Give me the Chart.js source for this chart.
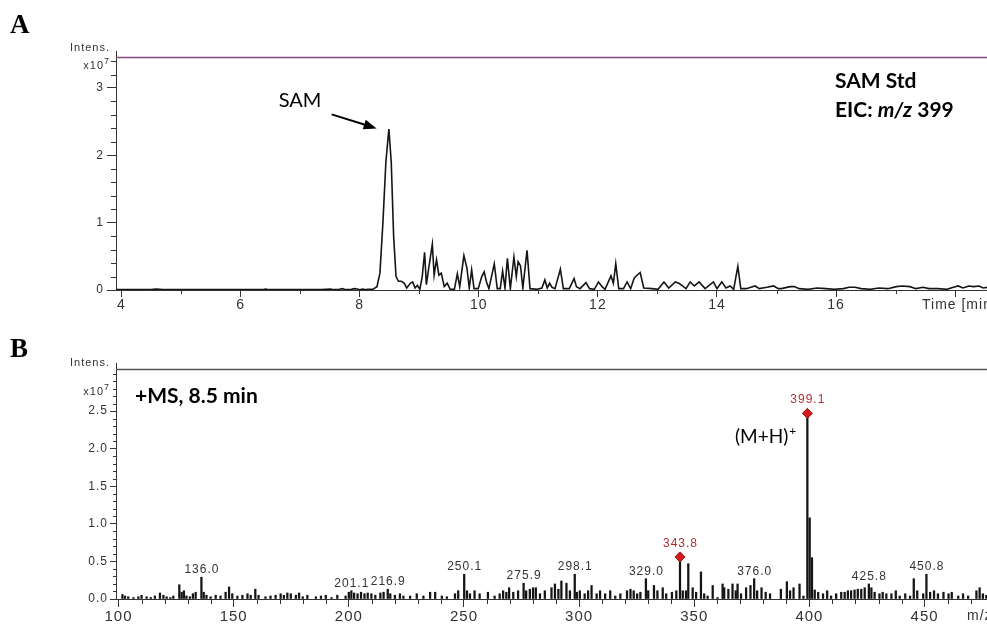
<!DOCTYPE html>
<html>
<head>
<meta charset="utf-8">
<script src="https://cdn.jsdelivr.net/npm/chart.js@4.4.1/dist/chart.umd.min.js"></script>
<style>
html, body { margin: 0; padding: 0; background: #fff; overflow: hidden; width: 987px; height: 624px; }
#a { position: absolute; left: 0; top: 0; }
#b { position: absolute; left: 0; top: 314px; }
</style>
</head>
<body>
<canvas id="a" width="987" height="314"></canvas>
<canvas id="b" width="987" height="310"></canvas>
<script>
// ---- panel A: extracted ion chromatogram, m/z 399 (intensity x10^7) ----
var eicTime = [3.91, 4.49, 4.59, 4.69, 5.48, 6.37, 6.42, 6.47, 7.36, 7.51, 7.56, 7.66, 7.71, 7.76, 7.86, 7.91, 7.96, 8.0, 8.05, 8.1, 8.15, 8.22,
  8.29, 8.34, 8.39, 8.44, 8.49, 8.53, 8.57, 8.61, 8.65, 8.7, 8.75, 8.79, 8.85, 8.89, 8.93, 8.97, 9.01, 9.05, 9.09, 9.12, 9.16,
  9.22, 9.25, 9.29, 9.33, 9.37, 9.42, 9.47, 9.52, 9.59, 9.64, 9.68, 9.75, 9.8, 9.84, 9.88, 9.92, 9.99, 10.05, 10.09, 10.13,
  10.17, 10.26, 10.31, 10.36, 10.4, 10.44, 10.48, 10.53, 10.59, 10.63, 10.66, 10.7, 10.74, 10.81, 10.86, 10.98, 11.06, 11.11,
  11.15, 11.19, 11.23, 11.28, 11.37, 11.42, 11.52, 11.6, 11.64, 11.7, 11.8, 11.86, 11.94, 12.01, 12.07, 12.12, 12.22, 12.26,
  12.3, 12.35, 12.43, 12.49, 12.55, 12.61, 12.71, 12.77, 12.91, 13.01, 13.11, 13.19, 13.3, 13.36, 13.42, 13.48, 13.55, 13.62,
  13.7, 13.8, 13.94, 14.0, 14.08, 14.15, 14.22, 14.28, 14.35, 14.4, 14.49, 14.64, 14.71, 14.84, 14.95, 15.03, 15.08, 15.23,
  15.3, 15.38, 15.53, 15.68, 15.83, 15.97, 16.12, 16.22, 16.32, 16.42, 16.57, 16.72, 16.87, 17.01, 17.11, 17.24, 17.34, 17.46,
  17.56, 17.71, 17.86, 17.97, 18.05, 18.13, 18.23, 18.31, 18.4, 18.47, 18.54];
var eicIntens = [0.005, 0.005, 0.015, 0.005, 0.005, 0.005, 0.015, 0.005, 0.005, 0.015, 0.005, 0.01, 0.02, 0.005, 0.01, 0.02, 0.015, 0.005, 0.015, 0.005, 0.01, 0.01,
  0.05, 0.25, 1.0, 1.9, 2.39, 1.9, 0.8, 0.2, 0.13, 0.13, 0.1, 0.03, 0.1, 0.12, 0.03, 0.07, 0.01, 0.2, 0.56, 0.08, 0.33,
  0.68, 0.22, 0.45, 0.22, 0.25, 0.05, 0.1, 0.01, 0.01, 0.24, 0.05, 0.51, 0.33, 0.03, 0.3, 0.02, 0.02, 0.2, 0.27, 0.12,
  0.02, 0.39, 0.02, 0.02, 0.28, 0.03, 0.47, 0.02, 0.49, 0.2, 0.42, 0.36, 0.03, 0.59, 0.02, 0.01, 0.03, 0.15,
  0.03, 0.1, 0.04, 0.02, 0.31, 0.02, 0.02, 0.17, 0.05, 0.02, 0.11, 0.02, 0.01, 0.12, 0.05, 0.01, 0.21, 0.1,
  0.39, 0.02, 0.02, 0.12, 0.02, 0.18, 0.26, 0.03, 0.02, 0.01, 0.12, 0.03, 0.12, 0.1, 0.06, 0.02, 0.12, 0.06,
  0.12, 0.02, 0.12, 0.02, 0.12, 0.03, 0.06, 0.01, 0.35, 0.02, 0.02, 0.06, 0.02, 0.04, 0.06, 0.02, 0.02, 0.05,
  0.05, 0.02, 0.01, 0.03, 0.02, 0.01, 0.02, 0.04, 0.04, 0.02, 0.01, 0.03, 0.02, 0.05, 0.06, 0.05, 0.02, 0.04,
  0.02, 0.02, 0.01, 0.04, 0.06, 0.03, 0.06, 0.05, 0.06, 0.03, 0.04];
var timeMajor = [4, 6, 8, 10, 12, 14, 16, 18];
var timeMinor = [5, 7, 9, 11, 13, 15, 17];
var eicMajor = [0, 1, 2, 3];
var eicMinor = [0.2, 0.4, 0.6, 0.8, 1.2, 1.4, 1.6, 1.8, 2.2, 2.4, 2.6, 2.8, 3.2, 3.4];

// ---- panel B: mass spectrum at 8.5 min (intensity x10^7) ----
var specMz = [101.7, 102.8, 104.2, 106.5, 108.6, 110.0, 112.2, 114.0, 115.8, 118.0, 119.5, 120.9, 122.5, 123.8, 126.4, 127.4,
  128.4, 129.5, 131.0, 132.3, 133.5, 136.0, 137.0, 138.2, 140.0, 142.2, 144.3, 146.5, 148.0, 149.4, 151.6, 153.8, 156.0,
  157.4, 159.4, 160.8, 163.8, 166.0, 168.2, 170.4, 171.8, 173.3, 174.8, 177.0, 178.4, 180.0, 182.0, 185.7, 187.9, 190.0,
  192.5, 195.0, 198.6, 200.0, 201.1, 202.3, 203.8, 205.3, 206.8, 208.2, 209.8, 211.5, 213.7, 215.1, 216.9, 218.0, 220.0,
  222.2, 223.7, 226.6, 229.5, 232.4, 235.3, 237.5, 240.4, 242.6, 246.1, 247.5, 250.1, 251.3, 252.6, 254.6, 256.8, 260.4,
  263.3, 265.5, 267.0, 268.4, 269.6, 271.4, 273.5, 275.9, 277.0, 278.6, 280.0, 281.2, 283.0, 285.1, 288.0, 289.5, 291.0,
  292.3, 294.5, 296.0, 298.1, 299.0, 300.3, 302.4, 303.9, 305.4, 307.6, 309.1, 311.3, 313.5, 315.7, 317.9, 320.8, 322.3,
  323.7, 325.2, 326.6, 329.0, 330.0, 332.5, 334.0, 336.3, 337.8, 340.3, 342.2, 343.8, 345.0, 346.4, 347.4, 349.3, 350.8,
  352.9, 354.3, 355.8, 358.0, 360.1, 362.3, 363.0, 364.8, 366.6, 368.0, 368.8, 370.3, 372.5, 374.4, 376.0, 377.3, 379.2,
  381.0, 382.9, 387.6, 390.2, 391.6, 393.1, 395.7, 397.4, 399.1, 400.1, 401.1, 402.3, 403.8, 405.9, 407.7, 409.4, 411.6,
  413.8, 415.3, 416.7, 418.1, 419.6, 421.0, 422.5, 424.0, 425.8, 426.9, 428.3, 430.4, 431.8, 433.4, 435.6, 437.5, 439.2,
  441.6, 443.7, 445.3, 446.8, 449.4, 450.8, 452.4, 454.1, 455.8, 458.2, 460.4, 461.8, 464.6, 466.7, 468.9, 472.5, 473.9,
  475.3, 476.8];
var specInt = [0.06, 0.04, 0.03, 0.02, 0.03, 0.05, 0.03, 0.02, 0.04, 0.08, 0.05, 0.03, 0.02, 0.04, 0.19, 0.09,
  0.11, 0.04, 0.03, 0.07, 0.09, 0.29, 0.09, 0.05, 0.03, 0.05, 0.04, 0.09, 0.16, 0.07, 0.04, 0.05, 0.07,
  0.05, 0.13, 0.05, 0.03, 0.04, 0.05, 0.07, 0.05, 0.08, 0.07, 0.05, 0.08, 0.03, 0.05, 0.03, 0.04, 0.05,
  0.02, 0.05, 0.04, 0.09, 0.11, 0.08, 0.07, 0.09, 0.07, 0.08, 0.07, 0.05, 0.08, 0.09, 0.13, 0.07, 0.05,
  0.07, 0.04, 0.04, 0.07, 0.04, 0.09, 0.09, 0.04, 0.03, 0.07, 0.11, 0.33, 0.11, 0.07, 0.11, 0.07, 0.09,
  0.04, 0.07, 0.11, 0.09, 0.15, 0.09, 0.11, 0.21, 0.11, 0.13, 0.15, 0.15, 0.07, 0.11, 0.15, 0.20, 0.13,
  0.24, 0.21, 0.11, 0.33, 0.09, 0.11, 0.07, 0.11, 0.18, 0.07, 0.11, 0.07, 0.11, 0.04, 0.07, 0.11, 0.13,
  0.11, 0.07, 0.09, 0.27, 0.11, 0.18, 0.11, 0.15, 0.07, 0.09, 0.11, 0.56, 0.11, 0.11, 0.47, 0.15, 0.09,
  0.36, 0.07, 0.04, 0.18, 0.02, 0.20, 0.15, 0.13, 0.20, 0.11, 0.20, 0.07, 0.15, 0.18, 0.27, 0.11, 0.15,
  0.09, 0.07, 0.13, 0.23, 0.11, 0.15, 0.20, 0.04, 2.47, 1.08, 0.55, 0.12, 0.09, 0.07, 0.11, 0.04, 0.07,
  0.09, 0.09, 0.11, 0.11, 0.12, 0.13, 0.13, 0.15, 0.20, 0.15, 0.09, 0.07, 0.09, 0.07, 0.07, 0.11, 0.04,
  0.07, 0.04, 0.27, 0.11, 0.07, 0.33, 0.09, 0.11, 0.07, 0.09, 0.07, 0.09, 0.04, 0.07, 0.04, 0.11, 0.15,
  0.07, 0.05];
var peakLabels = [136.0, 201.1, 216.9, 250.1, 275.9, 298.1, 329.0, 343.8, 376.0, 399.1, 425.8, 450.8];
var markedPeaks = [343.8, 399.1];
var mzMajor = [100, 150, 200, 250, 300, 350, 400, 450];
var mzMinor = [110, 120, 130, 140, 160, 170, 180, 190, 210, 220, 230, 240, 260, 270, 280, 290, 310, 320, 330, 340,
  360, 370, 380, 390, 410, 420, 430, 440, 460, 470];
var specMajor = [0, 0.5, 1.0, 1.5, 2.0, 2.5];
var specMinor = [0.1, 0.2, 0.3, 0.4, 0.6, 0.7, 0.8, 0.9, 1.1, 1.2, 1.3, 1.4, 1.6, 1.7, 1.8, 1.9, 2.1, 2.2, 2.3, 2.4,
  2.6, 2.7, 2.8, 2.9, 3.0];

var FONT = "'Liberation Sans', Arial, sans-serif";
var LFONT = "Lato, 'Open Sans', sans-serif";
var INK = '#333';

function intensityOf(mz) {
  return specInt[specMz.indexOf(mz)];
}

function drawMinor(chart, xs, ys, xLen, yLen) {
  var ctx = chart.ctx, a = chart.chartArea;
  ctx.save();
  ctx.strokeStyle = INK;
  ctx.lineWidth = 1;
  ctx.beginPath();
  xs.forEach(function (v) {
    var p = Math.round(chart.scales.x.getPixelForValue(v)) + 0.5;
    ctx.moveTo(p, a.bottom); ctx.lineTo(p, a.bottom + xLen);
  });
  ys.forEach(function (v) {
    var p = Math.round(chart.scales.y.getPixelForValue(v)) + 0.5;
    ctx.moveTo(a.left, p); ctx.lineTo(a.left - yLen, p);
  });
  // axis runs a little above the frame
  ctx.moveTo(a.left + 0.5, a.top - 6); ctx.lineTo(a.left + 0.5, a.top);
  ctx.stroke();
  ctx.restore();
}

function drawIntens(ctx, right, y1, y2) {
  ctx.save();
  ctx.letterSpacing = '1px';
  ctx.fillStyle = INK;
  ctx.textAlign = 'right';
  ctx.textBaseline = 'middle';
  ctx.font = '11px ' + FONT;
  ctx.fillText('Intens.', right, y1);
  ctx.font = '9px ' + FONT;
  var w7 = ctx.measureText('7').width;
  ctx.fillText('7', right, y2 - 4);
  ctx.font = '11px ' + FONT;
  ctx.fillText('x10', right - w7, y2);
  ctx.restore();
}

function axisCfg(major, fmt, len, pad, size, fit) {
  return {
    afterBuildTicks: function (s) { s.ticks = major.map(function (v) { return { value: v }; }); },
    afterFit: function (s) {
      fit(s);
      s.paddingLeft = 0; s.paddingRight = 0; s.paddingTop = 0; s.paddingBottom = 0;
    },
    grid: { drawOnChartArea: false, drawTicks: true, tickLength: len, color: INK, tickColor: INK, offset: false },
    border: { display: true, color: INK, width: 1 },
    ticks: { padding: pad, autoSkip: false, maxRotation: 0, color: INK, font: { family: FONT, size: size }, callback: fmt }
  };
}

var spacing = {
  id: 'spacing',
  beforeDraw: function (chart) { chart.ctx.letterSpacing = '1px'; }
};

// ---------- chart A ----------
var xA = axisCfg(timeMajor, function (v) { return v === 18 ? '' : String(v); }, 7, 0, 14, function (s) { s.height = 24; });
xA.type = 'linear'; xA.min = 3.908; xA.max = 18.534;
var yA = axisCfg(eicMajor, function (v) { return String(v); }, 9, 3, 12, function (s) { s.width = 116; });
yA.min = 0; yA.max = 3.46;

new Chart(document.getElementById('a'), {
  type: 'line',
  data: {
    datasets: [{
      data: eicTime.map(function (t, i) { return { x: t, y: eicIntens[i] }; }),
      borderColor: '#151515', borderWidth: 1.6, pointRadius: 0, tension: 0, fill: false
    }]
  },
  options: {
    responsive: false, animation: false, events: [],
    layout: { autoPadding: false, padding: { top: 57, left: 0, right: 0, bottom: 0 } },
    plugins: { legend: { display: false }, tooltip: { enabled: false } },
    scales: { x: xA, y: yA }
  },
  plugins: [spacing, {
    id: 'decorA',
    afterDraw: function (chart) {
      var ctx = chart.ctx, a = chart.chartArea, xs = chart.scales.x, ys = chart.scales.y;
      drawMinor(chart, timeMinor, eicMinor, 4, 5);
      ctx.save();
      ctx.strokeStyle = '#84487d';
      ctx.lineWidth = 1.5;
      ctx.beginPath(); ctx.moveTo(a.left, a.top + 0.5); ctx.lineTo(a.right, a.top + 0.5); ctx.stroke();
      ctx.restore();
      drawIntens(ctx, 110, 48, 66);

      ctx.save();
      ctx.letterSpacing = '1px';
      ctx.fillStyle = INK; ctx.font = '14px ' + FONT; ctx.textAlign = 'left'; ctx.textBaseline = 'middle';
      ctx.fillText('Time [min]', 922, 305.5);
      ctx.letterSpacing = '0px';
      ctx.fillStyle = '#000';
      ctx.font = 'bold 27px "Liberation Serif", "Times New Roman", serif';
      ctx.textBaseline = 'alphabetic';
      ctx.fillText('A', 10, 33);
      ctx.font = '20px ' + LFONT;
      ctx.textAlign = 'center';
      ctx.fillText('SAM', 300, 107);
      ctx.textAlign = 'left';
      ctx.font = 'bold 21px ' + LFONT;
      ctx.fillText('SAM Std', 835, 88);
      var x = 835;
      ctx.fillText('EIC: ', x, 117); x += ctx.measureText('EIC: ').width;
      ctx.font = 'italic bold 21px ' + LFONT;
      ctx.fillText('m/z', x, 117); x += ctx.measureText('m/z').width;
      ctx.font = 'bold 21px ' + LFONT;
      ctx.fillText(' 399', x, 117);

      // arrow pointing at the SAM peak
      var tx = xs.getPixelForValue(8.285), ty = ys.getPixelForValue(2.40);
      var sx = tx - 45, sy = ty - 14;
      var ang = Math.atan2(ty - sy, tx - sx), L = 13, W = 5;
      ctx.strokeStyle = '#000'; ctx.lineWidth = 2;
      ctx.beginPath(); ctx.moveTo(sx, sy);
      ctx.lineTo(tx - L * Math.cos(ang), ty - L * Math.sin(ang)); ctx.stroke();
      ctx.beginPath();
      ctx.moveTo(tx, ty);
      ctx.lineTo(tx - L * Math.cos(ang) + W * Math.sin(ang), ty - L * Math.sin(ang) - W * Math.cos(ang));
      ctx.lineTo(tx - L * Math.cos(ang) - W * Math.sin(ang), ty - L * Math.sin(ang) + W * Math.cos(ang));
      ctx.closePath(); ctx.fill();
      ctx.restore();
    }
  }]
});

// ---------- chart B ----------
var xB = axisCfg(mzMajor, function (v) { return String(v); }, 8, 1, 15, function (s) { s.height = 25; });
xB.type = 'linear'; xB.min = 98.91; xB.max = 477.1; xB.offset = false;
var yB = axisCfg(specMajor, function (v) { return v.toFixed(1); }, 6, 2, 12, function (s) { s.width = 116; });
yB.min = 0; yB.max = 3.06;

new Chart(document.getElementById('b'), {
  type: 'bar',
  data: {
    datasets: [{
      type: 'scatter',
      data: markedPeaks.map(function (m) { return { x: m, y: intensityOf(m) }; }),
      pointStyle: 'rectRot', pointRadius: 5, backgroundColor: '#d41b1b', borderColor: '#9a1010', borderWidth: 1,
      clip: false, order: 0
    }, {
      type: 'bar',
      data: specMz.map(function (m, i) { return { x: m, y: specInt[i] }; }),
      backgroundColor: '#141414', barThickness: 1.6, order: 1
    }]
  },
  options: {
    responsive: false, animation: false, events: [],
    layout: { autoPadding: false, padding: { top: 55, left: 0, right: 0, bottom: 0 } },
    plugins: { legend: { display: false }, tooltip: { enabled: false } },
    scales: { x: xB, y: yB }
  },
  plugins: [spacing, {
    id: 'decorB',
    afterDraw: function (chart) {
      var ctx = chart.ctx, a = chart.chartArea, xs = chart.scales.x, ys = chart.scales.y;
      drawMinor(chart, mzMinor, specMinor, 5, 3);
      ctx.save();
      ctx.strokeStyle = '#555';
      ctx.lineWidth = 1.5;
      ctx.beginPath(); ctx.moveTo(a.left, a.top + 0.5); ctx.lineTo(a.right, a.top + 0.5); ctx.stroke();
      ctx.restore();
      drawIntens(ctx, 110, 49, 78);

      ctx.save();
      ctx.letterSpacing = '1px';
      ctx.font = '12px ' + FONT; ctx.textAlign = 'center'; ctx.textBaseline = 'alphabetic';
      peakLabels.forEach(function (m) {
        var marked = markedPeaks.indexOf(m) >= 0;
        ctx.fillStyle = marked ? '#b0302f' : INK;
        var top = ys.getPixelForValue(intensityOf(m));
        ctx.fillText(m.toFixed(1), xs.getPixelForValue(m) + 0.5, top - (marked ? 10 : 4));
      });
      ctx.fillStyle = INK; ctx.font = '14px ' + FONT; ctx.textAlign = 'left'; ctx.textBaseline = 'middle';
      ctx.fillText('m/z', 967, 302);
      ctx.letterSpacing = '0px';
      ctx.fillStyle = '#000';
      ctx.textBaseline = 'alphabetic';
      ctx.font = 'bold 27px "Liberation Serif", "Times New Roman", serif';
      ctx.fillText('B', 10, 43);
      ctx.font = 'bold 21px ' + LFONT;
      ctx.fillText('+MS, 8.5 min', 135, 89);
      ctx.font = '19px ' + LFONT;
      ctx.fillText('(M+H)', 735, 129);
      var w = ctx.measureText('(M+H)').width;
      ctx.font = '12px ' + LFONT;
      ctx.fillText('+', 735 + w + 1, 121);
      ctx.restore();
    }
  }]
});
</script>
</body>
</html>
